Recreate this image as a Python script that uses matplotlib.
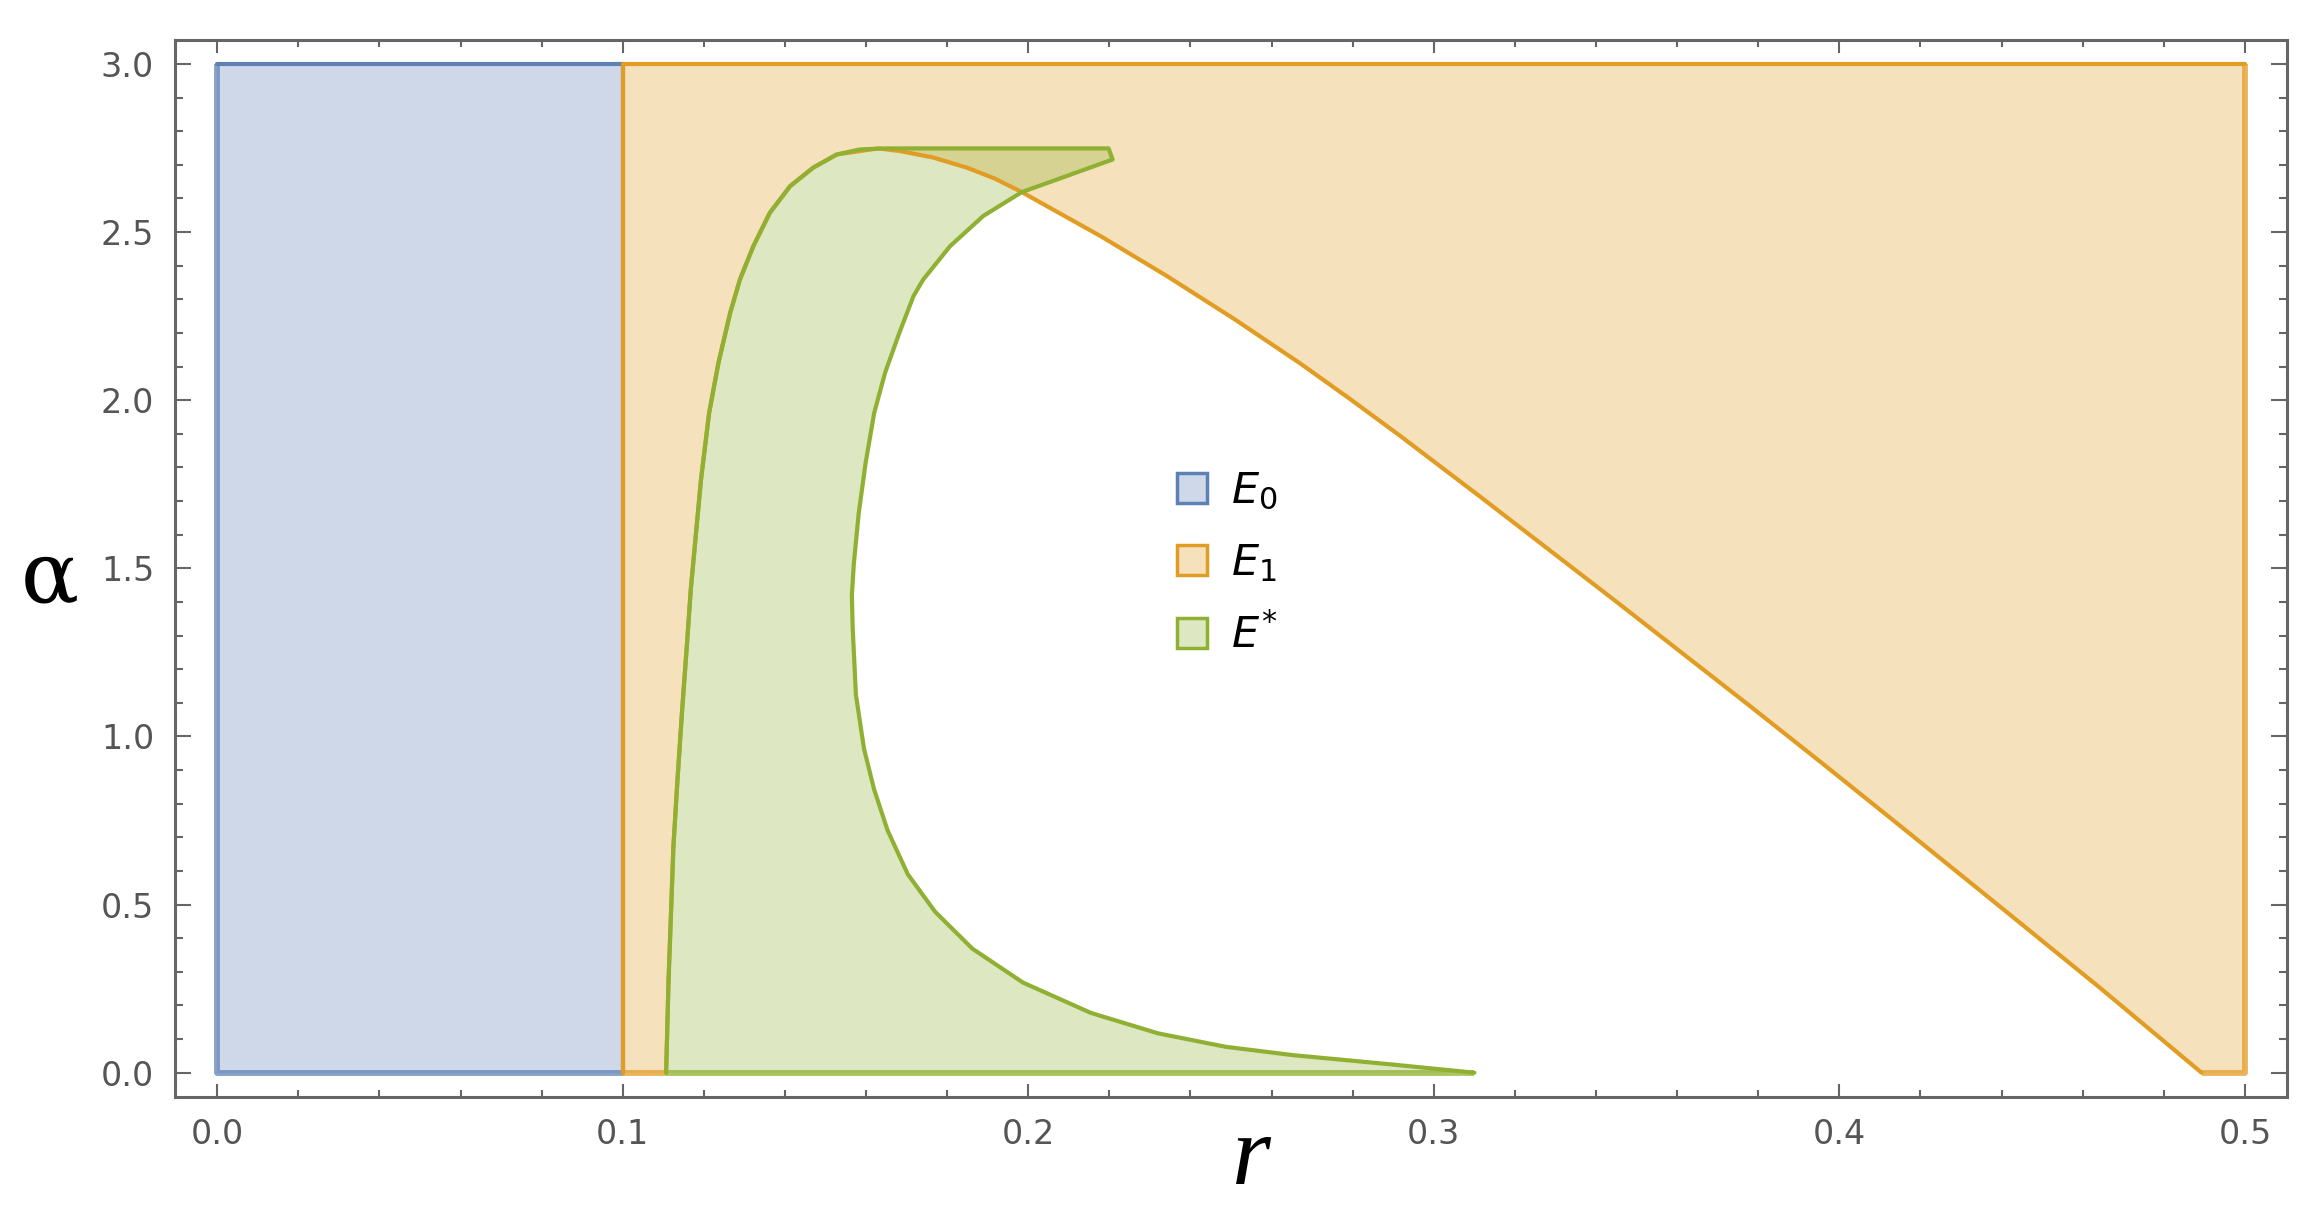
import numpy as np
import matplotlib.pyplot as plt
from matplotlib.patches import Patch
from matplotlib.colors import to_rgba
from matplotlib.ticker import MultipleLocator

# region E0: rectangle
e0_r = [0.0, 0.1, 0.1, 0.0]
e0_a = [0.0, 0.0, 3.0, 3.0]

# shared left boundary of E1 / E* (bottom to top)
outer_r = [0.1107, 0.1113, 0.1119, 0.1125, 0.1135, 0.1146, 0.1158, 0.1168, 0.1193, 0.1213,
           0.1236, 0.1265, 0.1289, 0.1322, 0.1363, 0.1413, 0.1470, 0.1528, 0.1585, 0.1651]
outer_a = [0.0, 0.276, 0.474, 0.673, 0.871, 1.070, 1.268, 1.440, 1.764, 1.962,
           2.111, 2.260, 2.359, 2.458, 2.558, 2.637, 2.692, 2.731, 2.746, 2.749]

# flat cap of E* and its small hook
cap_r = [0.2198, 0.2208]
cap_a = [2.749, 2.716]

# inner boundary of E* (top to bottom)
inner_r = [0.2095, 0.1984, 0.1889, 0.1807, 0.1741, 0.1717, 0.1682, 0.1647, 0.1620, 0.1599,
           0.1582, 0.1570, 0.1565, 0.1567, 0.1575, 0.1595, 0.1620, 0.1653, 0.1703, 0.1770,
           0.1862, 0.1987, 0.2154, 0.2320, 0.2487, 0.2654, 0.2787, 0.2900, 0.3000, 0.3100]
inner_a = [2.667, 2.619, 2.548, 2.458, 2.359, 2.310, 2.200, 2.082, 1.962, 1.814,
           1.665, 1.516, 1.420, 1.324, 1.124, 0.963, 0.842, 0.721, 0.590, 0.479,
           0.369, 0.268, 0.178, 0.117, 0.077, 0.052, 0.037, 0.024, 0.012, 0.0]

# lower boundary of E1 to the right of the peak
e1_r = [0.1630, 0.1684, 0.1765, 0.1848, 0.1918, 0.1984, 0.2177, 0.2341, 0.2506, 0.2670,
        0.2793, 0.2917, 0.3122, 0.3451, 0.3780, 0.3960, 0.4149, 0.4396, 0.4642, 0.4893]
e1_a = [2.749, 2.741, 2.722, 2.692, 2.659, 2.619, 2.489, 2.370, 2.243, 2.110,
        2.004, 1.894, 1.706, 1.400, 1.090, 0.918, 0.735, 0.494, 0.253, 0.0]

labels = [r"$E_0$", r"$E_1$", r"$E^{*}$"]
x_ticks = [0.0, 0.1, 0.2, 0.3, 0.4, 0.5]
y_ticks = [0.0, 0.5, 1.0, 1.5, 2.0, 2.5, 3.0]

BLUE, ORANGE, GREEN = "#5E81B5", "#E19C24", "#8FB032"
LW = 3.0
line_kw = dict(lw=LW, solid_joinstyle="round", solid_capstyle="round")
edge_kw = dict(lw=4.2, alpha=0.75, solid_capstyle="butt")

fig = plt.figure(figsize=(23.21, 12.12), dpi=100)
ax = fig.add_axes([175 / 2321, 1 - 1096.7 / 1212, (2286.7 - 175) / 2321, (1096.7 - 40) / 1212])

# E0
ax.fill(e0_r, e0_a, facecolor=to_rgba(BLUE, 0.3), edgecolor="none", lw=0)
ax.plot([0.0, 0.1, 0.1], [3.0, 3.0, 0.0], color=BLUE, **line_kw)
ax.plot([0.0, 0.0, 0.1], [3.0, 0.0, 0.0], color=BLUE, **edge_kw)

# E1
poly_r = [0.1] + outer_r[:-2] + e1_r + [0.5, 0.5, 0.1]
poly_a = [0.0] + outer_a[:-2] + e1_a + [0.0, 3.0, 3.0]
ax.fill(poly_r, poly_a, facecolor=to_rgba(ORANGE, 0.3), edgecolor="none", lw=0)
ax.plot([0.1, 0.1, 0.5], [0.0, 3.0, 3.0], color=ORANGE, **line_kw)
ax.plot(outer_r[:-2] + e1_r, outer_a[:-2] + e1_a, color=ORANGE, **line_kw)
ax.plot([0.1, outer_r[0]], [0.0, 0.0], color=ORANGE, **edge_kw)
ax.plot([e1_r[-1], 0.5, 0.5], [0.0, 0.0, 3.0], color=ORANGE, **edge_kw)

# E*
g_r = outer_r + cap_r + inner_r
g_a = outer_a + cap_a + inner_a
ax.fill(g_r, g_a, facecolor=to_rgba(GREEN, 0.3), edgecolor="none", lw=0)
ax.plot(g_r, g_a, color=GREEN, **line_kw)
ax.plot([outer_r[0], inner_r[-1]], [0.0, 0.0], color=GREEN, **edge_kw)

ax.set_xlim(-0.0104, 0.5103)
ax.set_ylim(-0.0714, 3.0714)
ax.set_xticks(x_ticks)
ax.set_yticks(y_ticks)
ax.set_xticklabels([f"{v:.1f}" for v in x_ticks])
ax.set_yticklabels([f"{v:.1f}" for v in y_ticks])
ax.xaxis.set_minor_locator(MultipleLocator(0.02))
ax.yaxis.set_minor_locator(MultipleLocator(0.1))

ax.tick_params(which="both", direction="in", top=True, right=True, color="#666666", width=1.5,
               labelsize=24, labelcolor="#555555")
ax.tick_params(axis="x", which="major", length=9.4, pad=15)
ax.tick_params(axis="x", which="minor", length=4.8)
ax.tick_params(axis="y", which="major", length=11.3, pad=15)
ax.tick_params(axis="y", which="minor", length=5.5)
for s in ax.spines.values():
    s.set_color("#666666")
    s.set_linewidth(2.2)

ax.set_xlabel("r", fontsize=72, family="Liberation Serif", style="italic", va="center")
ax.xaxis.set_label_coords(0.5095, -0.060)
ax.set_ylabel("α", fontsize=62, family="DejaVu Serif", rotation=0, va="center", ha="center")
ax.yaxis.set_label_coords(-0.0595, 0.490)

handles = [Patch(facecolor=to_rgba(c, 0.3), edgecolor=c, linewidth=2.5) for c in (BLUE, ORANGE, GREEN)]
ax.legend(handles, labels, loc="upper left", bbox_to_anchor=(1176.7 / 2321, 1 - 470 / 1212),
          bbox_transform=fig.transFigure, frameon=False, fontsize=31, handlelength=0.7,
          handleheight=0.7, handletextpad=0.55, labelspacing=0.7, borderpad=0, borderaxespad=0)

fig.savefig("out.png", dpi=100)
plt.close(fig)
